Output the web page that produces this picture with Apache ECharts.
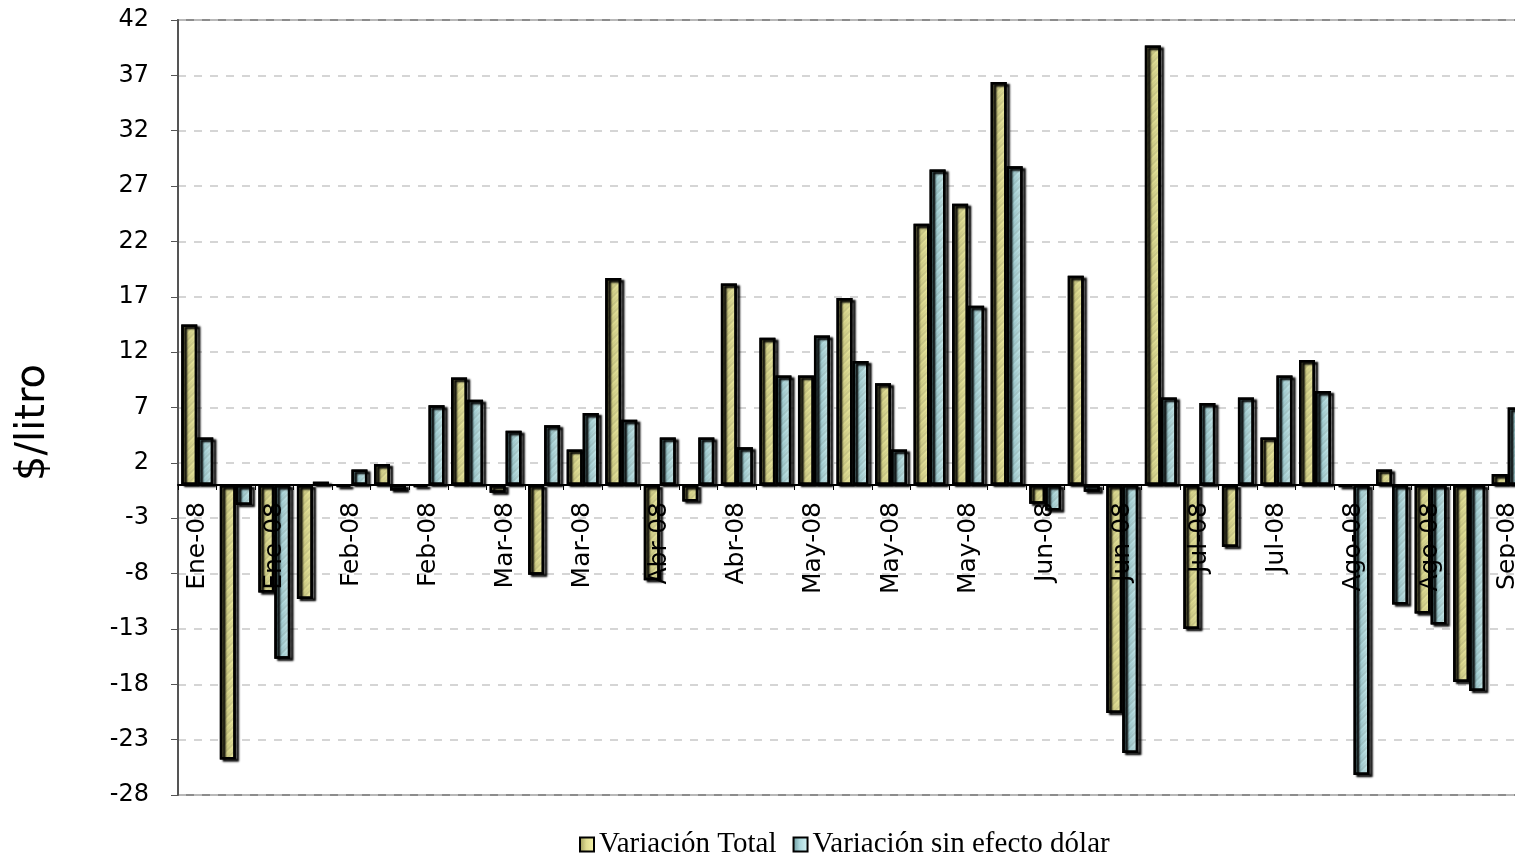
<!DOCTYPE html>
<html>
<head>
<meta charset="utf-8">
<script src="https://cdn.jsdelivr.net/npm/echarts@6/dist/echarts.min.js"></script>
<style>
html,body{margin:0;padding:0;background:#fff;}
#chart{width:1515px;height:854px;}
</style>
</head>
<body>
<div id="chart"></div>
<script>
// Weekly categories (every other label is shown on the axis)
const categories = [
  "Ene-08","Ene-08","Ene-08","Ene-08","Feb-08","Feb-08","Feb-08","Feb-08",
  "Mar-08","Mar-08","Mar-08","Mar-08","Abr-08","Abr-08","Abr-08","Abr-08",
  "May-08","May-08","May-08","May-08","May-08","Jun-08","Jun-08","Jun-08",
  "Jun-08","Jul-08","Jul-08","Jul-08","Jul-08","Ago-08","Ago-08","Ago-08",
  "Ago-08","Ago-08","Sep-08"
];
const variacionTotal = [
  14.5, -24.8, -9.7, -10.3, -0.2, 1.9, -0.2, 9.7, -0.7, -8.1,
  3.2, 18.7, -8.6, -1.5, 18.2, 13.3, 9.9, 16.9, 9.2, 23.6,
  25.4, 36.4, -1.7, 18.9, -20.6, 39.7, -13.0, -5.6, 4.3, 11.3,
  -0.2, 1.4, -11.6, -17.8, 1.0
];
const variacionSinDolar = [
  4.3, -1.8, -15.7, 0.3, 1.4, -0.5, 7.2, 7.7, 4.9, 5.4,
  6.5, 5.9, 4.3, 4.3, 3.4, 9.9, 13.5, 11.2, 3.2, 28.5,
  16.2, 28.8, -2.3, -0.6, -24.2, 7.9, 7.4, 7.9, 9.9, 8.5,
  -26.2, -10.8, -12.6, -18.6, 7.0
];
const seriesNames = ["Variación Total", "Variación sin efecto dólar"];
const yTitle = "$/litro";
const yMin = -28, yMax = 42, yStep = 5;

const chart = echarts.init(document.getElementById('chart'));

const yellowFill = new echarts.graphic.LinearGradient(0, 0, 1, 0, [
  {offset: 0, color: '#999758'},
  {offset: 0.45, color: '#dfdc90'},
  {offset: 1, color: '#f8f6ac'}
]);
const blueFill = new echarts.graphic.LinearGradient(0, 0, 1, 0, [
  {offset: 0, color: '#659398'},
  {offset: 0.45, color: '#abd8dd'},
  {offset: 1, color: '#d8f7f8'}
]);
const hatch = {
  symbol: 'rect',
  symbolSize: 1,
  dashArrayX: [1, 0],
  dashArrayY: [2, 4],
  rotation: -Math.PI / 4,
  color: 'rgba(50,50,40,0.15)'
};

function barItem(fill) {
  return {
    color: fill,
    borderColor: '#000',
    borderWidth: 2.5,
    shadowColor: 'rgba(0,0,0,0.3)',
    shadowBlur: 2,
    shadowOffsetX: 3,
    shadowOffsetY: 2,
    decal: hatch
  };
}

const option = {
  animation: false,
  backgroundColor: '#fff',
  grid: {
    left: 178, top: 20, right: -12, bottom: 59,
    containLabel: false,
    outerBoundsMode: 'none',
    show: true, borderColor: '#8c8c8c', borderWidth: 2
  },
  graphic: [{
    type: 'text',
    left: 14, top: 364,
    rotation: Math.PI / 2,
    style: {
      text: yTitle,
      font: '40px "DejaVu Sans"',
      fill: '#000'
    }
  }],
  legend: {
    left: 574,
    top: 825,
    itemWidth: 14,
    itemHeight: 14,
    itemGap: 16,
    textStyle: {fontFamily: '"Liberation Serif", serif', fontSize: 29, color: '#000'},
    data: seriesNames.map((n, i) => ({
      name: n,
      icon: 'rect',
      itemStyle: {color: i === 0 ? yellowFill : blueFill, borderColor: '#000', borderWidth: 2, decal: 'none'}
    }))
  },
  xAxis: {
    type: 'category',
    data: categories,
    z: 10,
    offset: 0,
    axisLine: {onZero: false, lineStyle: {color: '#000', width: 2}},
    axisTick: {show: true, interval: 0, length: 5, lineStyle: {color: '#000'}},
    axisLabel: {
      interval: 1, rotate: 90, fontSize: 25, color: '#000',
      fontFamily: '"DejaVu Sans"', margin: 17
    },
    splitLine: {show: false}
  },
  yAxis: {
    type: 'value',
    min: yMin, max: yMax, interval: yStep,
    axisLine: {show: true, onZero: false, lineStyle: {color: '#555', width: 2}},
    axisTick: {show: true, length: 7, lineStyle: {color: '#555'}},
    axisLabel: {fontSize: 24, color: '#000', fontFamily: '"DejaVu Sans"', margin: 29},
    splitLine: {show: true, lineStyle: {color: '#c8c8c8', width: 1.5, type: [8, 8]}}
  },
  series: [
    {
      name: seriesNames[0], type: 'bar', data: variacionTotal,
      barWidth: 16, barGap: '0%',
      itemStyle: barItem(yellowFill)
    },
    {
      name: seriesNames[1], type: 'bar', data: variacionSinDolar,
      barWidth: 16, barGap: '0%',
      itemStyle: barItem(blueFill)
    }
  ]
};
chart.setOption(option);
// place the category axis on the zero line using the library's own scale
const yZero = chart.convertToPixel({yAxisIndex: 0}, 0);
const yBottom = chart.convertToPixel({yAxisIndex: 0}, yMin);
chart.setOption({xAxis: {offset: yZero - yBottom}});
</script>
</body>
</html>
